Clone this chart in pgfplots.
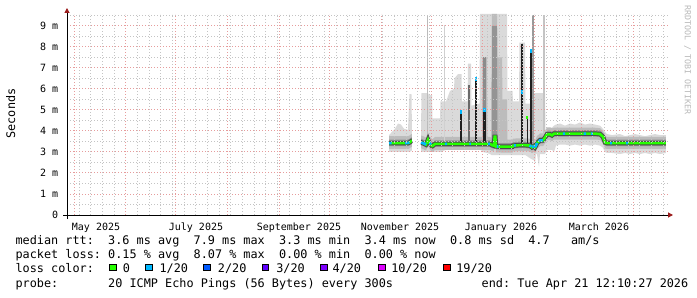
\documentclass[border=0pt]{standalone}
\usepackage{fontspec}
\setmonofont{DejaVu Sans Mono}
\usepackage{pgfplots}
\pgfplotsset{compat=1.18}
\usepackage{pgfplotstable}
\usepgfplotslibrary{fillbetween}
\usetikzlibrary{arrows.meta}

\definecolor{smA}{HTML}{DADADA}
\definecolor{smB}{HTML}{BCBCBC}
\definecolor{smC}{HTML}{949494}
\definecolor{medgray}{HTML}{4A4A4A}
\definecolor{gridgray}{HTML}{C4C4C4}
\definecolor{gridred}{HTML}{E69C9C}
\definecolor{arrowred}{HTML}{9B1C1C}
\definecolor{wmark}{HTML}{B8B8B8}
\definecolor{loss0}{HTML}{26FF00}
\definecolor{loss1}{HTML}{00B8FF}
\definecolor{loss2}{HTML}{0059FF}
\definecolor{loss3}{HTML}{5E00FF}
\definecolor{loss4}{HTML}{7E00FF}
\definecolor{loss10}{HTML}{DD00FF}
\definecolor{loss19}{HTML}{FF0000}

% x = days since 1 May 2025, values in ms
\pgfplotstableread{
x mx h2 h3 md l3 l2 mn
188.78 3.80 3.75 3.59 3.42 3.28 3.14 3.00
190.58 3.95 3.75 3.59 3.42 3.28 3.14 3.00
192.38 4.10 3.75 3.59 3.42 3.28 3.14 3.00
194.18 4.35 3.75 3.59 3.42 3.28 3.14 3.00
195.98 4.30 3.75 3.59 3.42 3.28 3.14 3.00
197.77 4.10 3.75 3.59 3.42 3.28 3.14 3.00
200.17 4.05 3.75 3.59 3.42 3.28 3.14 3.00
201.06 5.75 3.78 3.62 3.45 3.31 3.17 3.00
202.26 5.75 3.85 3.69 3.52 3.38 3.24 3.05
202.56 3.90 3.85 3.69 3.52 3.38 3.24 3.10
}\segA

\pgfplotstableread{
x mx h2 h3 md l3 l2 mn
207.96 3.90 3.78 3.62 3.45 3.31 3.17 3.00
208.26 5.80 3.78 3.62 3.45 3.31 3.17 3.00
209.75 5.80 3.73 3.57 3.40 3.26 3.12 3.00
210.95 5.80 3.68 3.52 3.35 3.21 3.07 3.00
212.15 5.80 3.91 3.75 3.58 3.44 3.30 3.00
212.75 5.70 3.78 3.62 3.45 3.31 3.17 3.00
213.35 5.70 3.73 3.57 3.40 3.26 3.12 3.00
214.55 5.70 3.61 3.45 3.28 3.14 3.00 3.00
214.85 4.60 3.61 3.45 3.28 3.14 3.00 3.00
216.35 4.60 3.71 3.55 3.38 3.24 3.10 3.00
219.34 4.60 3.71 3.55 3.38 3.24 3.10 3.00
219.64 5.40 3.71 3.55 3.38 3.24 3.10 3.00
222.94 5.40 3.71 3.55 3.38 3.24 3.10 3.10
225.34 5.90 3.71 3.55 3.38 3.24 3.10 3.10
227.74 6.00 3.71 3.55 3.38 3.24 3.10 3.10
228.04 6.50 3.71 3.55 3.38 3.24 3.10 3.10
230.13 6.70 3.71 3.55 3.38 3.24 3.10 3.10
232.23 6.70 3.71 3.55 3.38 3.24 3.10 3.10
232.53 5.40 3.71 3.55 3.38 3.24 3.10 3.10
235.83 5.40 3.71 3.55 3.38 3.24 3.10 3.10
236.13 7.20 3.71 3.55 3.38 3.24 3.10 3.10
237.92 7.20 3.71 3.55 3.38 3.24 3.10 3.10
238.22 5.20 3.71 3.55 3.38 3.24 3.10 3.10
243.02 5.30 3.71 3.55 3.38 3.24 3.10 3.10
243.32 9.56 3.71 3.55 3.38 3.24 3.10 3.10
244.52 9.56 3.71 3.55 3.38 3.24 3.10 3.05
244.82 9.56 7.50 3.55 3.38 3.24 3.10 3.00
247.51 9.56 7.50 3.55 3.38 3.24 3.10 2.95
247.81 9.56 3.71 3.55 3.38 3.24 3.10 2.95
249.31 9.56 3.71 3.55 3.38 3.24 3.10 2.90
250.21 9.56 3.67 3.51 3.34 3.20 3.06 2.85
250.50 9.56 9.56 9.00 3.32 3.18 3.04 2.85
251.70 9.56 9.56 9.00 3.30 3.16 3.02 2.85
252.10 9.56 9.56 9.00 3.72 3.58 3.44 2.85
252.50 9.56 9.56 9.00 3.72 3.58 3.44 2.85
252.90 9.56 9.56 9.00 3.26 3.12 2.98 2.85
253.50 9.56 9.56 9.00 3.26 3.12 2.98 2.85
253.80 9.56 7.50 3.43 3.26 3.12 2.98 2.85
256.50 9.56 7.50 3.42 3.25 3.11 2.97 2.85
256.80 9.56 5.50 3.42 3.25 3.11 2.97 2.85
259.49 9.56 5.50 3.42 3.25 3.11 2.97 2.85
259.79 5.90 3.58 3.42 3.25 3.11 2.97 2.85
262.79 5.90 3.58 3.42 3.25 3.11 2.97 2.85
263.09 5.40 3.63 3.47 3.30 3.16 3.02 2.85
266.69 5.40 3.65 3.49 3.32 3.18 3.04 2.85
266.99 8.20 3.65 3.49 3.32 3.18 3.04 2.85
270.28 8.20 3.65 3.49 3.32 3.18 3.04 2.85
270.58 5.30 3.65 3.49 3.32 3.18 3.04 2.85
273.28 5.30 3.63 3.47 3.30 3.16 3.02 2.70
274.48 5.50 3.55 3.39 3.22 3.08 2.94 2.65
275.68 5.80 3.61 3.45 3.28 3.14 3.00 2.60
276.28 5.80 3.55 3.39 3.22 3.08 2.94 2.45
276.88 5.80 3.63 3.47 3.30 3.16 3.02 2.90
277.48 5.80 3.76 3.60 3.43 3.29 3.15 2.90
278.68 5.80 3.83 3.67 3.50 3.36 3.22 2.30
279.27 5.80 3.88 3.72 3.55 3.41 3.27 2.90
281.07 5.80 3.88 3.72 3.55 3.41 3.27 2.90
282.27 5.80 4.01 3.85 3.68 3.54 3.40 2.90
282.57 4.05 4.01 3.85 3.72 3.58 3.44 2.95
283.47 4.10 4.17 4.01 3.84 3.70 3.56 3.10
285.27 4.15 4.17 4.01 3.84 3.70 3.56 3.10
286.47 4.15 4.12 3.96 3.79 3.65 3.51 3.10
287.67 4.25 4.15 4.04 3.87 3.73 3.59 3.00
288.87 4.30 4.15 4.04 3.87 3.73 3.59 3.30
291.27 4.35 4.15 4.04 3.87 3.73 3.59 3.35
294.26 4.25 4.15 4.04 3.87 3.73 3.59 3.35
297.26 4.35 4.15 4.04 3.87 3.73 3.59 3.30
300.26 4.30 4.15 4.04 3.87 3.73 3.59 3.35
303.25 4.40 4.15 4.04 3.87 3.73 3.59 3.30
306.25 4.30 4.15 4.04 3.87 3.73 3.59 3.35
309.24 4.35 4.15 4.04 3.87 3.73 3.59 3.30
312.24 4.30 4.15 4.04 3.87 3.73 3.59 3.35
315.23 4.25 4.13 4.02 3.85 3.71 3.57 3.30
317.03 4.10 4.00 3.89 3.72 3.58 3.44 3.20
318.23 3.95 3.75 3.62 3.45 3.31 3.17 3.00
319.43 3.85 3.72 3.59 3.42 3.28 3.14 2.95
322.43 3.80 3.72 3.59 3.42 3.28 3.14 2.95
327.22 3.85 3.72 3.59 3.42 3.28 3.14 2.90
330.22 3.75 3.72 3.59 3.42 3.28 3.14 2.95
333.21 3.80 3.72 3.59 3.42 3.28 3.14 2.90
336.21 3.85 3.72 3.59 3.42 3.28 3.14 2.95
339.20 3.80 3.72 3.59 3.42 3.28 3.14 2.90
342.20 3.75 3.72 3.59 3.42 3.28 3.14 2.95
345.20 3.80 3.72 3.59 3.42 3.28 3.14 2.90
348.19 3.85 3.72 3.59 3.42 3.28 3.14 2.95
351.19 3.80 3.72 3.59 3.42 3.28 3.14 2.90
354.78 3.80 3.72 3.59 3.42 3.28 3.14 2.95
}\segB

\begin{document}
\frenchspacing
\begin{tikzpicture}[x=1bp,y=1bp]
\path (0,0) rectangle (697,297);
\begin{axis}[
  at={(67bp,82bp)}, anchor=south west,
  scale only axis, width=601bp, height=201bp,
  xmin=-4.2, xmax=356, ymin=0, ymax=9.56,
  axis x line=bottom, axis y line=left,
  axis on top,
  x axis line style={black, line width=1bp, shorten <=-4bp, shorten >=-5bp,
    -{Triangle[length=5bp,width=5bp,color=arrowred]}},
  y axis line style={black, line width=1bp, shorten <=-4bp, shorten >=-6bp,
    -{Triangle[length=5bp,width=5bp,color=arrowred]}},
  tick style={draw=none},
  xtick={13.2,73.1,134.8,195.4,255.9,314.6},
  xticklabels={May 2025,July 2025,September 2025,November 2025,January 2026,March 2026},
  minor xtick={3,10,...,353},
  extra x ticks={0,31,61,92,123,153,184,214,245,276,304,335},
  extra x tick labels={},
  extra x tick style={grid=major},
  ytick={0,1,...,9},
  yticklabels={0,1 m,2 m,3 m,4 m,5 m,6 m,7 m,8 m,9 m},
  minor ytick={0.5,1.5,...,9.5},
  xmajorgrids=false, xminorgrids=true,
  ymajorgrids=true, yminorgrids=true,
  major grid style={gridred, line width=0.9bp, dash pattern=on 1bp off 2bp},
  minor grid style={gridgray, line width=0.9bp, dash pattern=on 1bp off 2bp},
  tick label style={font=\fontsize{10bp}{12bp}\ttfamily, inner sep=0pt},
  yticklabel style={anchor=east, xshift=-6.5bp},
  xticklabel style={anchor=north, yshift=-5.5bp},
]
% smoke, segment A
\addplot[draw=none, name path=amx, forget plot] table[x=x,y=mx]{\segA};
\addplot[draw=none, name path=amn, forget plot] table[x=x,y=mn]{\segA};
\addplot[draw=none, name path=ah2, forget plot] table[x=x,y=h2]{\segA};
\addplot[draw=none, name path=al2, forget plot] table[x=x,y=l2]{\segA};
\addplot[draw=none, name path=ah3, forget plot] table[x=x,y=h3]{\segA};
\addplot[draw=none, name path=al3, forget plot] table[x=x,y=l3]{\segA};
\addplot[fill=smA, draw=none, forget plot] fill between[of=amx and amn];
\addplot[fill=smB, draw=none, forget plot] fill between[of=ah2 and al2];
\addplot[fill=smC, draw=none, forget plot] fill between[of=ah3 and al3];
% smoke, segment B
\addplot[draw=none, name path=bmx, forget plot] table[x=x,y=mx]{\segB};
\addplot[draw=none, name path=bmn, forget plot] table[x=x,y=mn]{\segB};
\addplot[draw=none, name path=bh2, forget plot] table[x=x,y=h2]{\segB};
\addplot[draw=none, name path=bl2, forget plot] table[x=x,y=l2]{\segB};
\addplot[draw=none, name path=bh3, forget plot] table[x=x,y=h3]{\segB};
\addplot[draw=none, name path=bl3, forget plot] table[x=x,y=l3]{\segB};
\addplot[fill=smA, draw=none, forget plot] fill between[of=bmx and bmn];
\addplot[fill=smB, draw=none, forget plot] fill between[of=bh2 and bl2];
\addplot[fill=smC, draw=none, forget plot] fill between[of=bh3 and bl3];

% thin tall smoke lines
\addplot[color={rgb,255:red,187;green,187;blue,187}, line width=1.5bp] coordinates {(211.96,3.6) (211.96,9.5)};
\addplot[color={rgb,255:red,208;green,208;blue,208}, line width=1.6bp] coordinates {(222.15,3.4) (222.15,9.05)};
\addplot[color={rgb,255:red,154;green,154;blue,154}, line width=1.2bp] coordinates {(275.08,3.3) (275.08,9.5)};
\addplot[color={rgb,255:red,196;green,196;blue,196}, line width=1.2bp] coordinates {(281.67,3.5) (281.67,9.5)};
% dark spikes
\addplot[color={rgb,255:red,140;green,140;blue,140}, line width=2.2bp] coordinates {(246.0,5.0) (246.0,7.5)};
\addplot[color={rgb,255:red,106;green,106;blue,106}, line width=1.6bp] coordinates {(236.72,3.38) (236.72,6.16)};
\addplot[color={rgb,255:red,32;green,32;blue,32}, line width=1.6bp] coordinates {(231.93,3.38) (231.93,5.0)};
\addplot[color={rgb,255:red,32;green,32;blue,32}, line width=1.6bp] coordinates {(240.92,3.38) (240.92,6.55)};
\addplot[color={rgb,255:red,32;green,32;blue,32}, line width=2.2bp] coordinates {(246.0,3.38) (246.0,5.07)};
\addplot[color={rgb,255:red,32;green,32;blue,32}, line width=1.6bp] coordinates {(268.48,3.32) (268.48,8.15)};
\addplot[color={rgb,255:red,32;green,32;blue,32}, line width=1.6bp] coordinates {(271.78,3.32) (271.78,4.7)};
\addplot[color={rgb,255:red,32;green,32;blue,32}, line width=1.6bp] coordinates {(273.88,3.30) (273.88,7.9)};

% median rtt
\addplot[medgray, line width=4.5bp] table[x=x,y=md]{\segA};
\addplot[medgray, line width=4.5bp] table[x=x,y=md]{\segB};
\addplot[loss0, line width=2.6bp] table[x=x,y=md]{\segA};
\addplot[loss0, line width=2.6bp] table[x=x,y=md]{\segB};
% samples with 1/20 loss
\addplot[loss1, line width=2.6bp, unbounded coords=jump] coordinates {
 (188.78,3.42) (190.30,3.42) (190.5,nan)
 (198.37,3.42) (201.06,3.44) (201.2,nan)
 (207.96,3.45) (209.75,3.40) (210.95,3.35) (211.1,nan)
 (213.05,3.43) (213.95,3.35) (214.1,nan)
 (222.34,3.38) (223.54,3.38) (223.7,nan)
 (237.02,3.38) (237.92,3.38) (238.0,nan)
 (248.11,3.38) (249.31,3.38) (249.5,nan)
 (253.50,3.26) (254.40,3.26) (254.5,nan)
 (263.69,3.31) (264.89,3.31) (265.0,nan)
 (272.98,3.30) (273.88,3.26) (274.0,nan)
 (274.48,3.22) (275.68,3.28) (275.8,nan)
 (276.28,3.22) (276.88,3.30) (277.48,3.43) (277.6,nan)
 (278.68,3.50) (279.27,3.55) (281.07,3.55) (281.2,nan)
 (293.06,3.87) (294.26,3.87) (294.4,nan)
 (305.35,3.87) (306.85,3.87) (307.0,nan)
 (309.84,3.87) (311.04,3.87) (311.2,nan)
 (321.23,3.42) (322.43,3.42) (322.6,nan)
 (330.82,3.42) (332.02,3.42)
};
% spike tops
\addplot[loss1, line width=2bp] coordinates {(231.93,4.82) (231.93,5.0)};
\addplot[loss1, line width=2bp] coordinates {(240.92,6.38) (240.92,6.55)};
\addplot[loss1, line width=2.4bp] coordinates {(246.0,4.9) (246.0,5.07)};
\addplot[loss1, line width=2bp] coordinates {(268.48,5.75) (268.48,5.95)};
\addplot[loss1, line width=2bp] coordinates {(273.88,7.72) (273.88,7.9)};
\addplot[loss0, line width=2bp] coordinates {(271.78,4.55) (271.78,4.72)};
\end{axis}

% axis title and watermark
\node[rotate=90, inner sep=0pt, font=\fontsize{11.83bp}{14bp}\ttfamily] at (10.8,183.5) {Seconds};
\node[rotate=-90, inner sep=0pt, font=\fontsize{8.3bp}{10bp}\ttfamily, text=wmark] at (687.5,237) {RRDTOOL / TOBI OETIKER};

% legend
\begin{scope}[every node/.style={inner sep=0pt, anchor=base west, font=\fontsize{11.83bp}{14bp}\ttfamily}]
\node at (15.4,52.3) {median rtt:~~3.6 ms avg~~7.9 ms max~~3.3 ms min~~3.4 ms now~~0.8 ms sd~~4.7~~~am/s};
\node at (15.4,38.3) {packet loss: 0.15 \% avg~~8.07 \% max~~0.00 \% min~~0.00 \% now};
\node at (15.4,24.3) {loss color:};
\node at (15.4,10) {probe:~~~~~~~20 ICMP Echo Pings (56 Bytes) every 300s};
\node at (481.5,10) {end: Tue Apr 21 12:10:27 2026};
\node at (122.7,24.3) {0};
\node at (159.4,24.3) {1/20};
\node at (217.7,24.3) {2/20};
\node at (276.1,24.3) {3/20};
\node at (332.4,24.3) {4/20};
\node at (391.1,24.3) {10/20};
\node at (456.1,24.3) {19/20};
\end{scope}
\foreach \bx/\bc in {109.3/loss0,145/loss1,203.3/loss2,261.7/loss3,320/loss4,378.3/loss10,443.3/loss19}{
  \filldraw[fill=\bc, draw=black, line width=0.8bp] (\bx+0.4,26.4) rectangle (\bx+6.9,32.9);
}
\end{tikzpicture}
\end{document}
